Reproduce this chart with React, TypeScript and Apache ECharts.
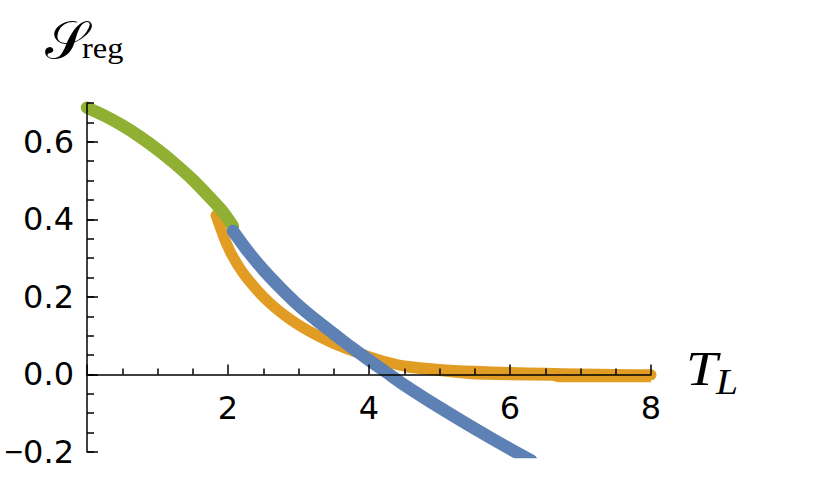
import React, { useEffect, useRef } from 'react';
import * as echarts from 'echarts';

// Green branch (low T_L)
const greenX = [0, 0.25, 0.5, 0.75, 1.0, 1.25, 1.5, 1.75, 1.9, 2.0, 2.07];
const greenY = [0.688, 0.667, 0.642, 0.613, 0.58, 0.543, 0.502, 0.455, 0.425, 0.401, 0.382];

// Blue branch
const blueX = [2.07, 2.25, 2.5, 2.75, 3.0, 3.25, 3.5, 3.75, 4.0, 4.25, 4.5, 5.0, 5.5, 6.0, 6.3];
const blueY = [0.37, 0.325, 0.27, 0.222, 0.178, 0.14, 0.105, 0.07, 0.037, 0.005, -0.027, -0.085, -0.14, -0.192, -0.222];

// Orange branch (upper part of band)
const orangeX = [1.83, 1.88, 1.95, 2.05, 2.2, 2.4, 2.6, 2.8, 3.0, 3.25, 3.5, 3.75, 4.0, 4.25, 4.5, 5.0, 5.5, 6.0, 6.5, 7.0, 7.5, 8.0];
const orangeY = [0.41, 0.385, 0.35, 0.31, 0.265, 0.22, 0.183, 0.153, 0.128, 0.102, 0.08, 0.062, 0.046, 0.032, 0.022, 0.013, 0.008, 0.005, 0.003, 0.001, 0.0, -0.001];

// Orange branch (lower part of band)
const orangeLowX = [4.5, 5.0, 5.3, 5.5, 6.0, 6.6, 6.7, 7.0, 8.0];
const orangeLowY = [0.02, 0.01, 0.004, 0.001, -0.001, -0.002, -0.006, -0.006, -0.006];

// Axis ranges and tick labels
const xMin = 0;
const xMax = 8;
const yMin = -0.2;
const yMax = 0.7;
const xTickValues = [2, 4, 6, 8];
const yTickValues = [-0.2, 0, 0.2, 0.4, 0.6];

const BLUE = '#5E81B5';
const ORANGE = '#E19C24';
const GREEN = '#8FB032';

export default function App() {
  const ref = useRef<HTMLDivElement>(null);
  useEffect(() => {
    const chart = echarts.init(ref.current as HTMLDivElement, null, { renderer: 'svg', width: 830, height: 479 });
    const pairs = (xs: number[], ys: number[]) => xs.map((x, i) => [x, ys[i]]);
    const fmtY = (v: number) => {
      if (!yTickValues.some((t) => Math.abs(t - v) < 1e-6)) return '';
      const s = Math.abs(v).toFixed(1);
      return v < -1e-9 ? '{m|\u2212}' + s : s;
    };
    const fmtX = (v: number) => (xTickValues.some((t) => Math.abs(t - v) < 1e-6) ? String(v) : '');
    const axisLineStyle = { color: '#000', width: 1.5 };
    const labelFont = { fontSize: 32, fontFamily: '"DejaVu Sans", sans-serif', color: '#000' };
    const serif = '"Liberation Serif", "Times New Roman", serif';
    const lineBase = { type: 'line', symbol: 'none', showSymbol: false, silent: true, xAxisIndex: 0, yAxisIndex: 0 };

    const grid = { left: 87, right: 179, top: 103, bottom: 27 };
    const gridH = 479 - grid.top - grid.bottom;
    // move the x axis up to y = 0
    const xOffset = -gridH * (0 - yMin) / (yMax - yMin);

    chart.setOption({
      animation: false,
      backgroundColor: '#fff',
      grid: { ...grid, outerBoundsMode: 'none' },
      xAxis: [
        {
          type: 'value', min: xMin, max: xMax, interval: 2, z: 10, position: 'bottom', offset: xOffset,
          axisLine: { show: true, onZero: false, lineStyle: axisLineStyle },
          axisTick: { show: true, inside: true, length: 10, lineStyle: axisLineStyle },
          minorTick: { show: true, splitNumber: 4, length: 6, lineStyle: axisLineStyle },
          axisLabel: { ...labelFont, margin: 18, formatter: fmtX },
          splitLine: { show: false },
        },
      ],
      yAxis: [
        {
          type: 'value', min: yMin, max: yMax, interval: 0.2, z: 10,
          axisLine: { show: true, onZero: false, lineStyle: axisLineStyle },
          axisTick: { show: true, inside: true, length: 11, lineStyle: axisLineStyle, customValues: yTickValues },
          axisLabel: {
            ...labelFont, margin: 13, formatter: fmtY, customValues: yTickValues,
            rich: { m: { fontSize: 32, fontFamily: '"Liberation Sans", Arial, sans-serif', color: '#000' } },
          },
          splitLine: { show: false },
        },
        {
          type: 'value', min: yMin, max: yMax, interval: 0.05, position: 'left', z: 10,
          axisLine: { show: false, onZero: false },
          axisTick: { show: true, inside: true, length: 7, lineStyle: axisLineStyle },
          axisLabel: { show: false },
          splitLine: { show: false },
        },
      ],
      graphic: [
        { type: 'text', x: 45, y: 40, scaleX: 1.05, style: { text: '\u{1D4AE}', fontSize: 52, fontFamily: '"DejaVu Serif", "DejaVu Sans", serif', fill: '#000', verticalAlign: 'middle', align: 'left' } },
        { type: 'text', x: 82, y: 48, scaleX: 1.08, style: { text: 'reg', fontSize: 30, fontFamily: serif, fill: '#000', verticalAlign: 'middle', align: 'left' } },
        { type: 'text', x: 686, y: 369, scaleX: 1.18, style: { text: 'T', fontSize: 48, fontFamily: serif, fontStyle: 'italic', fill: '#000', verticalAlign: 'middle', align: 'left' } },
        { type: 'text', x: 716, y: 382, scaleX: 1.1, style: { text: 'L', fontSize: 36, fontFamily: serif, fontStyle: 'italic', fill: '#000', verticalAlign: 'middle', align: 'left' } },
      ],
      series: [
        { ...lineBase, data: pairs(orangeX, orangeY), smooth: 0.2, lineStyle: { color: ORANGE, width: 11, cap: 'round', join: 'round' } },
        { ...lineBase, data: pairs(orangeLowX, orangeLowY), smooth: false, lineStyle: { color: ORANGE, width: 11, cap: 'butt', join: 'round' } },
        { ...lineBase, data: pairs(greenX, greenY), smooth: 0.2, lineStyle: { color: GREEN, width: 12.5, cap: 'round', join: 'round' } },
        { ...lineBase, data: pairs(blueX, blueY), smooth: 0.2, lineStyle: { color: BLUE, width: 12.5, cap: 'round', join: 'round' } },
      ],
    });
    return () => chart.dispose();
  }, []);
  return <div ref={ref} style={{ position: 'fixed', left: 0, top: 0, width: 830, height: 479, background: '#fff' }} />;
}
